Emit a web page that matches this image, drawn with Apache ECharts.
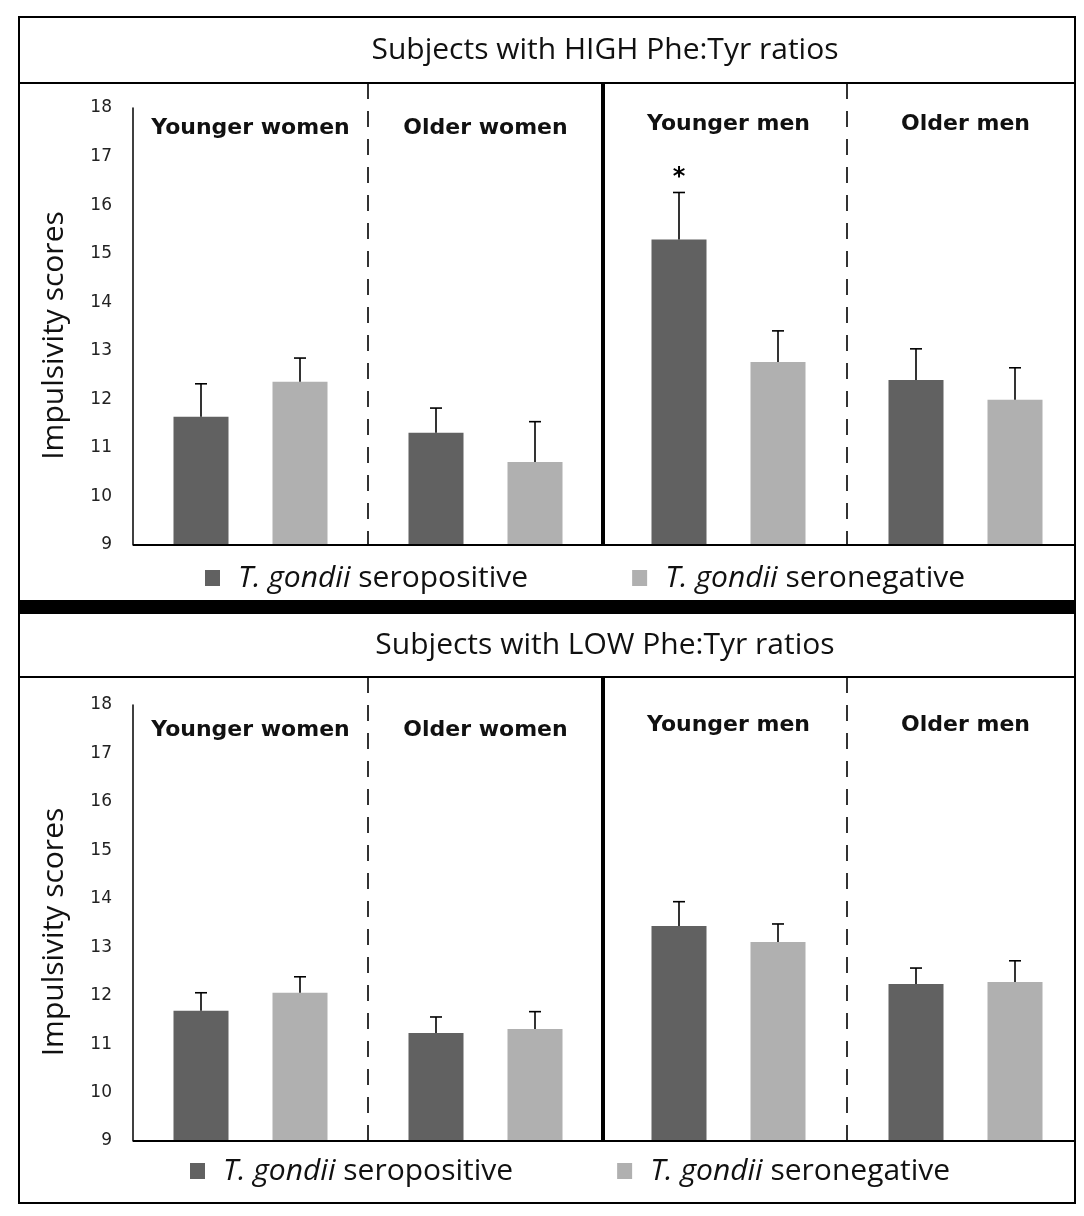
<!DOCTYPE html>
<html>
<head>
<meta charset="utf-8">
<title>Impulsivity scores by Phe:Tyr ratio</title>
<script src="https://cdn.jsdelivr.net/npm/echarts@6/dist/echarts.min.js"></script>
<style>
  html, body { margin: 0; padding: 0; background: #fff; }
  #chart { width: 1084px; height: 1216px; }
</style>
</head>
<body>
<div id="chart"></div>
<script>
// groups, left half = women, right half = men
var groups = ['Younger women', 'Older women', 'Younger men', 'Older men'];
var womenIdx = [0, 1];
var menIdx = [2, 3];

var seriesNames = ['T. gondii seropositive', 'T. gondii seronegative'];
var italicPart = 'T. gondii';

var panelTitles = ['Subjects with HIGH Phe:Tyr ratios', 'Subjects with LOW Phe:Tyr ratios'];
var yName = 'Impulsivity scores';
var Y_MIN = 9, Y_MAX = 18;

// HIGH Phe:Tyr
var highPos = [11.64, 11.31, 15.29, 12.40];
var highPosSE = [0.68, 0.51, 0.97, 0.64];
var highNeg = [12.36, 10.71, 12.77, 11.99];
var highNegSE = [0.49, 0.83, 0.64, 0.66];
var highMarks = ['', '', '*', ''];

// LOW Phe:Tyr
var lowPos = [11.69, 11.23, 13.44, 12.24];
var lowPosSE = [0.37, 0.33, 0.50, 0.33];
var lowNeg = [12.06, 11.31, 13.11, 12.28];
var lowNegSE = [0.33, 0.36, 0.37, 0.44];
var lowMarks = ['', '', '', ''];

var panels = [
  { pos: highPos, posSE: highPosSE, neg: highNeg, negSE: highNegSE, marks: highMarks },
  { pos: lowPos, posSE: lowPosSE, neg: lowNeg, negSE: lowNegSE, marks: lowMarks }
];

// layout / style
var DARK = '#616161', LIGHT = '#b0b0b0';
var BAR_W = 55, BAR_GAP = 44;
var BAR_OFFSET = (BAR_W + BAR_GAP) / 2;
var GRID_TOP = [108, 705], GRID_H = [437, 436];
var BAND_BOTTOM = [83, 677];
var LABEL_MARGIN = [[9, 5], [14, 9]];
var LEGEND = [{ left: 200, top: 558 }, { left: 185, top: 1151 }];
var FRAME = { x: 19, y: 17, w: 1056, h: 1186 };
var TITLE_X = 605;
var TEXT_FONT = 'Open Sans';

var chart = echarts.init(document.getElementById('chart'));

function errorBars(sign, marks) {
  return function (params, api) {
    var i = api.value(0), mean = api.value(1), se = api.value(2);
    var base = api.coord([i, mean]);
    var tip = api.coord([i, mean + se]);
    var x = base[0] + sign * BAR_OFFSET;
    var kids = [
      { type: 'line', shape: { x1: x, y1: base[1], x2: x, y2: tip[1] }, style: { stroke: '#000', lineWidth: 1.6 } },
      { type: 'line', shape: { x1: x - 6, y1: tip[1], x2: x + 6, y2: tip[1] }, style: { stroke: '#000', lineWidth: 1.6 } }
    ];
    var m = marks && marks[api.value(3)];
    if (m) {
      kids.push({ type: 'text', x: x, y: tip[1] - 3,
        style: { text: m, fontSize: 24, fontWeight: 'bold', fontFamily: 'DejaVu Sans', fill: '#000', align: 'center', verticalAlign: 'bottom' } });
    }
    return { type: 'group', children: kids };
  };
}

var grids = [], xAxes = [], yAxes = [], series = [], legends = [];

panels.forEach(function (p, k) {
  [womenIdx, menIdx].forEach(function (idx, h) {
    var g = grids.length;
    grids.push(h === 0
      ? { left: 133, width: 470, top: GRID_TOP[k], height: GRID_H[k] }
      : { left: 610, right: 0, top: GRID_TOP[k], height: GRID_H[k] });
    xAxes.push({
      type: 'category', gridIndex: g, position: 'top',
      data: idx.map(function (i) { return groups[i]; }),
      axisLine: { show: false }, axisTick: { show: false },
      axisLabel: { inside: true, interval: 0, margin: LABEL_MARGIN[k][h],
        fontFamily: 'DejaVu Sans', fontWeight: 'bold', fontSize: 22, color: '#111' }
    });
    yAxes.push({
      type: 'value', gridIndex: g, min: Y_MIN, max: Y_MAX, interval: 1, show: h === 0,
      name: h === 0 ? yName : '', nameLocation: 'middle', nameGap: 64,
      nameTextStyle: { fontFamily: TEXT_FONT, fontSize: 30, color: '#111', padding: [0, 18, 0, 0] },
      axisLine: { show: true, lineStyle: { color: '#000', width: 1.5 } },
      axisTick: { show: false }, splitLine: { show: false },
      axisLabel: { margin: 21, fontFamily: 'DejaVu Sans', fontSize: 17, color: '#222' }
    });
    series.push({
      name: seriesNames[0], type: 'bar', xAxisIndex: g, yAxisIndex: g,
      barWidth: BAR_W, barGap: (BAR_GAP / BAR_W * 100) + '%',
      itemStyle: { color: DARK },
      data: idx.map(function (i) { return p.pos[i]; })
    });
    series.push({
      name: seriesNames[1], type: 'bar', xAxisIndex: g, yAxisIndex: g,
      barWidth: BAR_W, barGap: (BAR_GAP / BAR_W * 100) + '%',
      itemStyle: { color: LIGHT },
      data: idx.map(function (i) { return p.neg[i]; })
    });
    series.push({
      type: 'custom', xAxisIndex: g, yAxisIndex: g, z: 5,
      renderItem: errorBars(-1, p.marks),
      data: idx.map(function (i, j) { return [j, p.pos[i], p.posSE[i], i]; })
    });
    series.push({
      type: 'custom', xAxisIndex: g, yAxisIndex: g, z: 5,
      renderItem: errorBars(1, null),
      data: idx.map(function (i, j) { return [j, p.neg[i], p.negSE[i], i]; })
    });
  });
  legends.push({
    left: LEGEND[k].left, top: LEGEND[k].top, icon: 'rect',
    itemWidth: 15, itemHeight: 16, itemGap: 104, selectedMode: false,
    data: seriesNames,
    formatter: function (name) {
      return '{i|' + italicPart + '}' + name.slice(italicPart.length);
    },
    textStyle: {
      fontFamily: TEXT_FONT, fontSize: 30, color: '#111',
      rich: { i: { fontFamily: TEXT_FONT, fontSize: 30, fontStyle: 'italic', color: '#111', padding: [0, 0, 0, 13] } }
    }
  });
});

chart.setOption({
  backgroundColor: '#fff',
  animation: false,
  grid: grids,
  xAxis: xAxes,
  yAxis: yAxes,
  legend: legends,
  series: series
});

// frame, title bands and group dividers, placed from the axes' own pixel positions
var gfx = [
  { type: 'rect', shape: { x: FRAME.x, y: FRAME.y, width: FRAME.w, height: FRAME.h },
    style: { fill: 'none', stroke: '#000', lineWidth: 2 }, z: 10 },
  { type: 'rect', shape: { x: FRAME.x, y: 600, width: FRAME.w, height: 14 },
    style: { fill: '#000' }, z: 10 }
];
var frameRight = FRAME.x + FRAME.w;
panels.forEach(function (p, k) {
  var gl = 2 * k, gr = 2 * k + 1;
  var a0 = chart.convertToPixel({ gridIndex: gl }, [0, Y_MIN]);
  var a1 = chart.convertToPixel({ gridIndex: gl }, [1, Y_MIN]);
  var b0 = chart.convertToPixel({ gridIndex: gr }, [0, Y_MIN]);
  var b1 = chart.convertToPixel({ gridIndex: gr }, [1, Y_MIN]);
  var baseY = a0[1];
  var leftEdge = a0[0] - (a1[0] - a0[0]) / 2;
  var mid = a1[0] + (a1[0] - a0[0]) / 2;
  var top = BAND_BOTTOM[k];
  gfx.push({ type: 'line', shape: { x1: FRAME.x, y1: top, x2: frameRight, y2: top },
    style: { stroke: '#000', lineWidth: 2 }, z: 10 });
  gfx.push({ type: 'text', x: TITLE_X, y: (top + (k === 0 ? FRAME.y : 614)) / 2,
    style: { text: panelTitles[k], fontFamily: TEXT_FONT, fontSize: 30, fill: '#111', align: 'center', verticalAlign: 'middle' }, z: 10 });
  gfx.push({ type: 'line', shape: { x1: leftEdge, y1: baseY, x2: frameRight, y2: baseY },
    style: { stroke: '#000', lineWidth: 2 }, z: 10 });
  gfx.push({ type: 'line', shape: { x1: (a0[0] + a1[0]) / 2, y1: top, x2: (a0[0] + a1[0]) / 2, y2: baseY },
    style: { stroke: '#000', lineWidth: 1.6, lineDash: [16, 12] }, z: 10 });
  gfx.push({ type: 'line', shape: { x1: mid, y1: top, x2: mid, y2: baseY },
    style: { stroke: '#000', lineWidth: 4 }, z: 10 });
  gfx.push({ type: 'line', shape: { x1: (b0[0] + b1[0]) / 2, y1: top, x2: (b0[0] + b1[0]) / 2, y2: baseY },
    style: { stroke: '#000', lineWidth: 1.6, lineDash: [16, 12] }, z: 10 });
});
chart.setOption({ graphic: gfx });

window.addEventListener('resize', function () {
  chart.resize();
});
</script>
</body>
</html>
